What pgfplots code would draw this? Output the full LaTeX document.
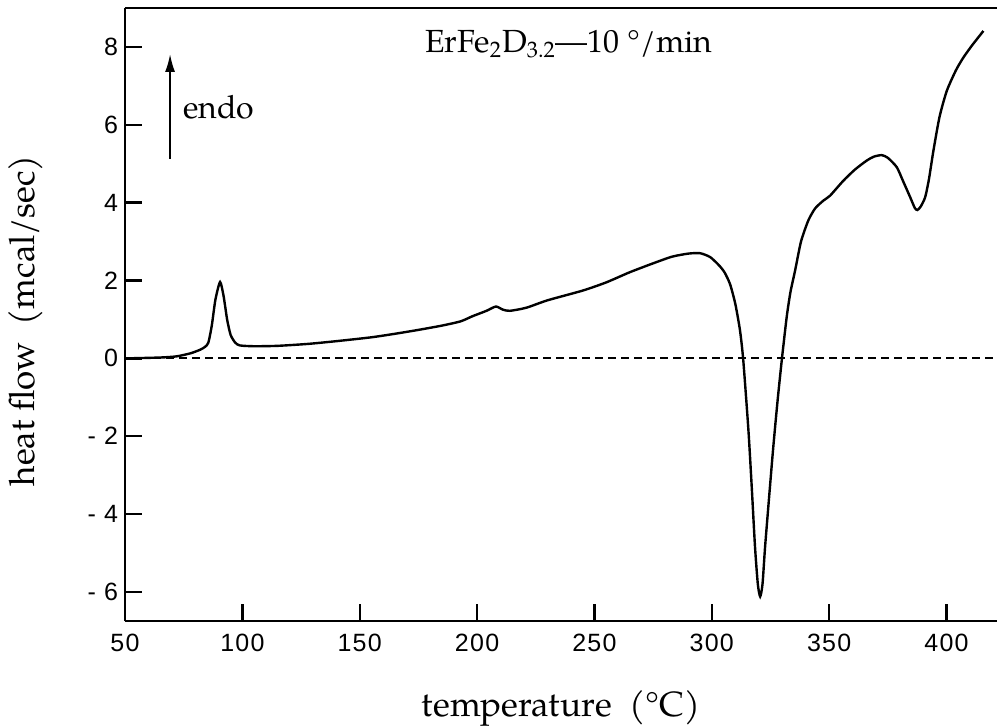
\documentclass[border=0pt]{standalone}
\usepackage{fontspec}
\setmainfont{TeX Gyre Pagella}
\newfontfamily\tickfont[LetterSpace=5]{Liberation Sans}
\usepackage{pgfplots}
\pgfplotsset{compat=1.18}
\usetikzlibrary{arrows.meta}
\begin{document}
\begin{tikzpicture}
\begin{axis}[name=ax, scale only axis, width=436pt, height=306.5pt,
  xmin=50, xmax=421.5, ymin=-6.75, ymax=9,
  axis x line*=bottom, axis y line*=left,
  axis line style={-, line width=1.4pt},
  xtick={50,100,...,400}, xticklabels={50,100,150,200,250,300,350,400},
  ytick={-6,-4,...,8}, yticklabels={- 6,- 4,- 2,0,2,4,6,8},
  tick align=inside, major tick length=8.5pt,
  tick style={line width=1.2pt, black},
  ticklabel style={font=\tickfont\fontsize{12.5}{14}\selectfont},
  xticklabel style={yshift=-3pt},
  clip=false,
  xlabel={temperature\ \ (°C)}, ylabel={heat flow\ \ (mcal/sec)},
  xlabel style={at={([yshift=-47.5pt]rel axis cs:0.5,0)}, anchor=base, font=\fontsize{17.5}{20}\selectfont, inner sep=0pt},
  ylabel style={at={([xshift=-41pt]rel axis cs:0,0.49)}, anchor=south, font=\fontsize{17.5}{20}\selectfont, inner sep=0pt},
]
\draw[line width=1.4pt] (rel axis cs:0,1) -- (rel axis cs:1,1);
\addplot[black, line width=0.9pt, dash pattern=on 4pt off 2.5pt] coordinates {(51,0) (421.5,0)};
\addplot[black, line width=1.2pt, smooth, tension=0.4] coordinates {
(52,0.0) (65,0.02) (72,0.05) (78,0.13) (82,0.22) (84,0.29) (85.5,0.4) (87,0.85) (88.5,1.5) (90.5,1.96) (92,1.6) (93.5,1.0) (95,0.6) (97,0.4) (99,0.33)
(105,0.31) (115,0.32) (128,0.37) (140,0.44) (155,0.54) (165,0.63) (175,0.73) (185,0.84) (193,0.95) (198,1.08) (204,1.22) (208,1.33) (211,1.25) (214,1.22) (221,1.30)
(230,1.49) (245,1.74) (255,1.95) (265,2.21) (275,2.44) (283,2.61) (290,2.69) (295,2.70) (299.3,2.60) (303.2,2.38) (305.5,2.2) (307.8,1.9) (310,1.4) (312,0.72) (313.4,-0.05)
(315.6,-1.85) (317,-3.3) (318.4,-4.84) (319.6,-5.8) (320.6,-6.12) (321.6,-5.8) (322.7,-4.84) (324.5,-3.5) (326.2,-2.27) (328,-1.1) (329.8,-0.05) (331.9,1.06) (333.5,1.7) (335.5,2.26)
(338,3.0) (341.1,3.54) (344,3.85) (347.5,4.05) (350.4,4.18) (356,4.56) (361,4.85) (366,5.08) (369,5.18) (372.4,5.22) (375,5.15) (378.8,4.91) (381.5,4.55) (384.5,4.14) (386.5,3.86) (387.6,3.81)
(389,3.9) (390.9,4.14) (392.5,4.6) (394.4,5.33) (397,6.2) (400.1,6.87) (404,7.4) (407.2,7.73) (411,8.05) (415.7,8.41)};
\node[anchor=base west, inner sep=0pt, font=\fontsize{16}{18}\selectfont] at (axis cs:177.8,7.85) {ErFe\textsubscript{2}D\textsubscript{3.2}—10 °/min};
\draw[line width=1pt, -{Latex[length=9pt,width=5pt]}] (axis cs:69.2,5.13) -- (axis cs:69.2,7.82);
\node[anchor=base west, inner sep=0pt, font=\fontsize{16}{18}\selectfont] at (axis cs:74.7,6.15) {endo};
\end{axis}
\pgfresetboundingbox
\path[use as bounding box] ([xshift=-62.5pt,yshift=4pt]ax.north west) rectangle ([yshift=-52pt]ax.south east);
\end{tikzpicture}
\end{document}
